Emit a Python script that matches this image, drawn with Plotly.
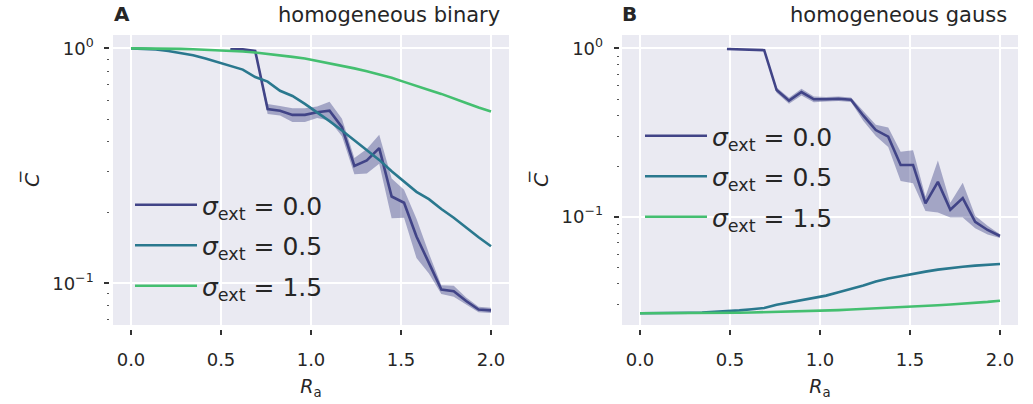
import plotly.graph_objects as go

# ---------------- data ----------------
R_a = [0.0, 0.069, 0.138, 0.207, 0.276, 0.345, 0.414, 0.483, 0.552, 0.621,
       0.690, 0.759, 0.828, 0.897, 0.966, 1.034, 1.103, 1.172, 1.241, 1.310,
       1.379, 1.448, 1.517, 1.586, 1.655, 1.724, 1.793, 1.862, 1.931, 2.0]

# Panel A: homogeneous binary
A_s00_start = 8
A_s00 = [0.99, 0.99, 0.975, 0.552, 0.543, 0.521, 0.521, 0.535, 0.543, 0.462,
         0.316, 0.333, 0.376, 0.234, 0.22, 0.158, 0.122, 0.094, 0.0925, 0.084,
         0.0773, 0.0766]
A_s00_std = [0.005, 0.005, 0.01, 0.027, 0.025, 0.035, 0.035, 0.03, 0.05, 0.04,
             0.025, 0.04, 0.053, 0.045, 0.03, 0.03, 0.012, 0.004, 0.005, 0.003,
             0.002, 0.002]
A_s05 = [1.0, 0.997, 0.99, 0.975, 0.955, 0.935, 0.905, 0.875, 0.845, 0.812,
         0.755, 0.722, 0.66, 0.627, 0.58, 0.535, 0.49, 0.447, 0.405, 0.37,
         0.335, 0.3, 0.27, 0.245, 0.228, 0.207, 0.19, 0.172, 0.157, 0.1436]
A_s15 = [1.0, 1.0, 0.999, 0.997, 0.995, 0.992, 0.988, 0.984, 0.978, 0.97,
         0.96, 0.948, 0.935, 0.92, 0.905, 0.885, 0.865, 0.845, 0.822, 0.8,
         0.775, 0.75, 0.72, 0.69, 0.665, 0.64, 0.61, 0.585, 0.56, 0.538]

# Panel B: homogeneous gauss
B_s00_start = 7
B_s00 = [0.99, 0.985, 0.98, 0.975, 0.565, 0.489, 0.55, 0.498, 0.498, 0.502,
         0.495, 0.398, 0.327, 0.299, 0.203, 0.203, 0.12, 0.161, 0.11, 0.129,
         0.0933, 0.0834, 0.0768]
B_s00_std = [0.005, 0.005, 0.005, 0.005, 0.02, 0.02, 0.025, 0.02, 0.015, 0.015,
             0.015, 0.028, 0.025, 0.04, 0.04, 0.045, 0.012, 0.055, 0.011, 0.03,
             0.008, 0.005, 0.002]
B_s05 = [0.0267, 0.0267, 0.0267, 0.0268, 0.0269, 0.027, 0.0272, 0.0275, 0.0278, 0.0282,
         0.0287, 0.030, 0.031, 0.032, 0.0329, 0.034, 0.0356, 0.0372, 0.039, 0.0412,
         0.043, 0.0443, 0.0455, 0.0472, 0.0485, 0.0497, 0.0505, 0.0512, 0.0518, 0.0524]
B_s15 = [0.0267, 0.0267, 0.0267, 0.0267, 0.0267, 0.0267, 0.0267, 0.0268, 0.0269, 0.027,
         0.0271, 0.0272, 0.0273, 0.0274, 0.0275, 0.0277, 0.0279, 0.0281, 0.0283, 0.0285,
         0.0287, 0.029, 0.0292, 0.0295, 0.0298, 0.0301, 0.0304, 0.0308, 0.0312, 0.0317]

series_names = ["<i>σ</i><sub>ext</sub> = 0.0", "<i>σ</i><sub>ext</sub> = 0.5",
                "<i>σ</i><sub>ext</sub> = 1.5"]
x_ticks = [0.0, 0.5, 1.0, 1.5, 2.0]
x_ticklabels = ["0.0", "0.5", "1.0", "1.5", "2.0"]
y_ticks = [1.0, 0.1]
y_ticklabels = ["10<sup>0</sup>", "10<sup>−1</sup>"]
panel_letters = ["A", "B"]
panel_titles = ["homogeneous binary", "homogeneous gauss"]

# ---------------- style ----------------
W, H = 1033, 404
C0, C1, C2 = "#414487", "#2a788e", "#44bf70"
BAND = "rgba(65,68,135,0.42)"
TXT = "#262626"
FONT = "DejaVu Sans"

def px(v):
    return v / W

def py(v):
    return 1 - v / H

fig = go.Figure()

panels = [
    dict(xa="x", ya="y", leg="legend", start=A_s00_start, s00=A_s00, std=A_s00_std,
         s05=A_s05, s15=A_s15),
    dict(xa="x2", ya="y2", leg="legend2", start=B_s00_start, s00=B_s00, std=B_s00_std,
         s05=B_s05, s15=B_s15),
]

for p in panels:
    xs = R_a[p["start"]:]
    up = [m + s for m, s in zip(p["s00"], p["std"])]
    lo = [m - s for m, s in zip(p["s00"], p["std"])]
    fig.add_trace(go.Scatter(x=xs, y=up, xaxis=p["xa"], yaxis=p["ya"], mode="lines",
                             line=dict(width=0), showlegend=False, hoverinfo="skip"))
    fig.add_trace(go.Scatter(x=xs, y=lo, xaxis=p["xa"], yaxis=p["ya"], mode="lines",
                             line=dict(width=0), fill="tonexty", fillcolor=BAND,
                             showlegend=False, hoverinfo="skip"))
    for name, ys, xv, col, grp in [(series_names[0], p["s00"], xs, C0, "g0"),
                                   (series_names[1], p["s05"], R_a, C1, "g1"),
                                   (series_names[2], p["s15"], R_a, C2, "g2")]:
        fig.add_trace(go.Scatter(x=xv, y=ys, xaxis=p["xa"], yaxis=p["ya"], mode="lines",
                                 line=dict(color=col, width=2.6), name=name,
                                 legend=p["leg"], legendgroup=grp))

# axis geometry (pixels)
A_left, A_right = 113, 509
B_left, B_right = 622, 1018
top, bottom = 35, 325

common_x = dict(range=[-0.1, 2.1], tickvals=x_ticks, ticktext=x_ticklabels,
                showgrid=True, gridcolor="white", gridwidth=1.6, zeroline=False,
                showline=False, ticks="outside", ticklen=5, tickwidth=1.6,
                tickcolor="#333333", tickfont=dict(family=FONT, size=18, color=TXT),
                ticklabelstandoff=9,
                anchor="free", position=py(329), automargin=False,
                title=dict(text="<i>R</i><sub>a</sub>", standoff=11,
                           font=dict(family=FONT, size=19, color=TXT)))
common_y = dict(type="log", tickvals=y_ticks, ticktext=y_ticklabels,
                showgrid=True, gridcolor="white", gridwidth=1.6, zeroline=False,
                showline=False, ticks="outside", ticklen=5, tickwidth=1.6,
                tickcolor="#333333", tickfont=dict(family=FONT, size=18, color=TXT),
                ticklabelstandoff=7,
                anchor="free", automargin=False,
                minor=dict(ticks="outside", ticklen=2, tickwidth=1.2, tickcolor="#555555",
                           dtick="D1", showgrid=False),
                title=dict(text="<i>C̅</i>", standoff=6,
                           font=dict(family=FONT, size=20, color=TXT)))

fig.update_layout(
    width=W, height=H,
    margin=dict(l=0, r=0, t=0, b=0, autoexpand=False),
    paper_bgcolor="white",
    plot_bgcolor="#EAEAF2",
    font=dict(family=FONT, color=TXT),
    xaxis=dict(common_x, domain=[px(A_left), px(A_right)]),
    xaxis2=dict(common_x, domain=[px(B_left), px(B_right)]),
    yaxis=dict(common_y, domain=[py(bottom), py(top)], range=[-1.178, 0.057],
               position=px(109.3)),
    yaxis2=dict(common_y, domain=[py(bottom), py(top)], range=[-1.643, 0.079],
                position=px(618.7)),
    legend=dict(x=px(130), y=py(182), xanchor="left", yanchor="top",
                bgcolor="rgba(0,0,0,0)", font=dict(family=FONT, size=25, color=TXT),
                tracegroupgap=5, itemwidth=62),
    legend2=dict(x=px(640), y=py(113), xanchor="left", yanchor="top",
                 bgcolor="rgba(0,0,0,0)", font=dict(family=FONT, size=25, color=TXT),
                 tracegroupgap=5, itemwidth=62),
    showlegend=True,
)

annotations = []
for letter, title, lx, rx in [(panel_letters[0], panel_titles[0], 112, 502),
                              (panel_letters[1], panel_titles[1], 620, 1009)]:
    annotations.append(dict(text="<b>" + letter + "</b>", xref="paper", yref="paper",
                            x=px(lx), y=py(14), xanchor="left", yanchor="middle",
                            showarrow=False, font=dict(family=FONT, size=20, color=TXT)))
    annotations.append(dict(text=title, xref="paper", yref="paper",
                            x=px(rx), y=py(15), xanchor="right", yanchor="middle",
                            showarrow=False, font=dict(family=FONT, size=21, color=TXT)))
fig.update_layout(annotations=annotations)

fig.write_html("out.html", config={"displayModeBar": False},
               post_script="document.body.style.margin='0';document.body.style.padding='0';")
